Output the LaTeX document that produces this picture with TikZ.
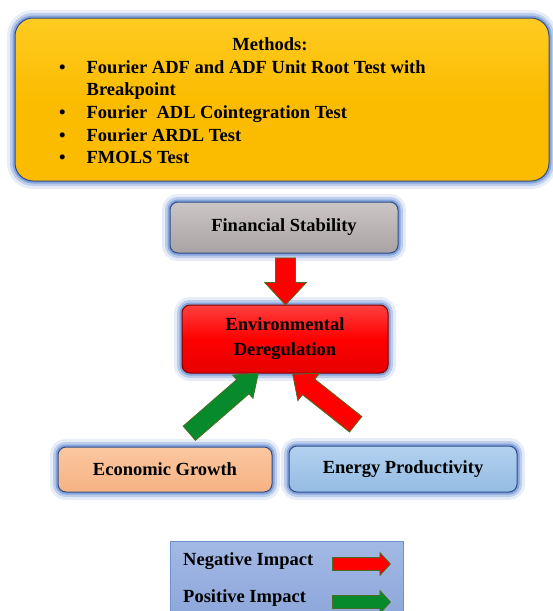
\documentclass[tikz,border=0pt]{standalone}
\usepackage{fontspec}
\setmainfont{Liberation Serif}
\usetikzlibrary{shapes.arrows,calc}

\definecolor{glowblue}{HTML}{4F7BCB}
\definecolor{boxedge}{HTML}{2E4C86}
\definecolor{arrowedge}{HTML}{4C6E22}
\definecolor{arrred}{HTML}{FF0000}
\definecolor{arrgreen}{HTML}{078A2B}
\definecolor{methtop}{HTML}{FFCB22}
\definecolor{methbot}{HTML}{FBBC00}
\definecolor{fintop}{HTML}{CBC6C5}
\definecolor{finbot}{HTML}{A9A4A3}
\definecolor{ecotop}{HTML}{FBC7A0}
\definecolor{ecobot}{HTML}{F6B283}
\definecolor{enetop}{HTML}{B3D1EF}
\definecolor{enebot}{HTML}{94BCE3}
\definecolor{legtop}{HTML}{A3B9E5}
\definecolor{legbot}{HTML}{8CA6DA}
\definecolor{legedge}{HTML}{6F90D2}

\tikzset{
  glow/.style={preaction={draw=glowblue, line width=16pt, opacity=0.14},
               preaction={draw=glowblue, line width=10pt, opacity=0.28},
               preaction={draw=glowblue, line width=5pt, opacity=0.50}},
  box/.style={rectangle, rounded corners=8pt, draw=boxedge, line width=1pt, glow,
              font=\fontsize{18.5}{25}\selectfont\bfseries, inner sep=0pt, align=center},
  blockarr/.style={single arrow, draw=arrowedge, line width=0.8pt, inner sep=0pt,
                   minimum width=0pt, single arrow tip angle=90},
}

% fat arrow from one named point to another
\newcommand{\conn}[3][]{%
  \path let \p1=(#2), \p2=(#3),
        \n1={atan2(\y2-\y1,\x2-\x1)}, \n2={veclen(\x2-\x1,\y2-\y1)} in
    (#2) node[blockarr, #1, rotate=\n1, minimum height=\n2, anchor=tail] {};}

\begin{document}
\begin{tikzpicture}[x=1pt, y=-1pt]
    \useasboundingbox (0,0) rectangle (553,611);
    \clip (0,0) rectangle (553,611);
    % Methods
    \node[box, rounded corners=18pt, minimum width=534, minimum height=163,
          top color=methtop, bottom color=methbot, middle color=methbot] (methods) at (282,99.5) {};
    \node[font=\fontsize{18.5}{22}\selectfont\bfseries] (mhead) at (270,44) {Methods:};
    \node[anchor=north west, inner sep=0pt, font=\fontsize{18.5}{22.7}\selectfont\bfseries] (mlist) at (59,57)
      {\begin{tabular}{@{}l@{\hspace{21pt}}l@{}}
        \textbullet & Fourier ADF and ADF Unit Root Test with \\
                    & Breakpoint \\
        \textbullet & Fourier\ \ ADL Cointegration Test \\
        \textbullet & Fourier ARDL Test \\
        \textbullet & FMOLS Test
       \end{tabular}};
    % Boxes
    \node[box, minimum width=228, minimum height=51, top color=fintop, bottom color=finbot] (fin) at (284,227.5) {Financial Stability};
    \node[box, draw=red!50!black, minimum width=206, minimum height=68, top color=red!75, bottom color=red!90!black, middle color=red] (env) at (285,339) {Environmental\\Deregulation};
    \node[box, minimum width=214, minimum height=45, top color=ecotop, bottom color=ecobot] (eco) at (165,469.5) {Economic Growth};
    \node[box, minimum width=228, minimum height=46, top color=enetop, bottom color=enebot] (energy) at (403,469) {Energy Productivity};
    % Arrows
    \coordinate (ftail) at ($(fin.south)+(1.5,4)$);
    \coordinate (ftip)  at ($(env.north)+(0.5,0)$);
    \coordinate (gtail) at ($(eco.north)+(24,-13)$);
    \coordinate (gtip)  at ($(env.south)+(-27,0)$);
    \coordinate (rtail) at ($(energy.north)+(-47,-21)$);
    \coordinate (rtip)  at ($(env.south)+(8,1)$);
    \conn[fill=arrred, inner ysep=9.5pt, single arrow head extend=11pt, single arrow tip angle=86]{ftail}{ftip}
    \conn[fill=arrgreen, inner ysep=9pt, single arrow head extend=6pt, single arrow tip angle=74]{gtail}{gtip}
    \conn[fill=arrred, inner ysep=9.5pt, single arrow head extend=7.5pt, single arrow tip angle=81]{rtail}{rtip}
    % Legend
    \node[rectangle, draw=legedge, line width=0.8pt, minimum width=233, minimum height=79,
          top color=legtop, bottom color=legbot] (legend) at (286.5,580.5) {};
    \node[anchor=base west, inner sep=0pt, font=\fontsize{18.5}{22}\selectfont\bfseries] (neg) at (183,565) {Negative Impact};
    \node[anchor=base west, inner sep=0pt, font=\fontsize{18.5}{22}\selectfont\bfseries] (pos) at (183,602) {Positive Impact};
    \coordinate (ntail) at (332,564);
    \coordinate (ntip)  at (390,564);
    \coordinate (ptail) at (332,602);
    \coordinate (ptip)  at (390,602);
    \conn[fill=arrred, inner ysep=6pt, single arrow head extend=5pt, single arrow tip angle=95]{ntail}{ntip}
    \conn[fill=arrgreen, inner ysep=6pt, single arrow head extend=5pt, single arrow tip angle=95]{ptail}{ptip}
\end{tikzpicture}
\end{document}
